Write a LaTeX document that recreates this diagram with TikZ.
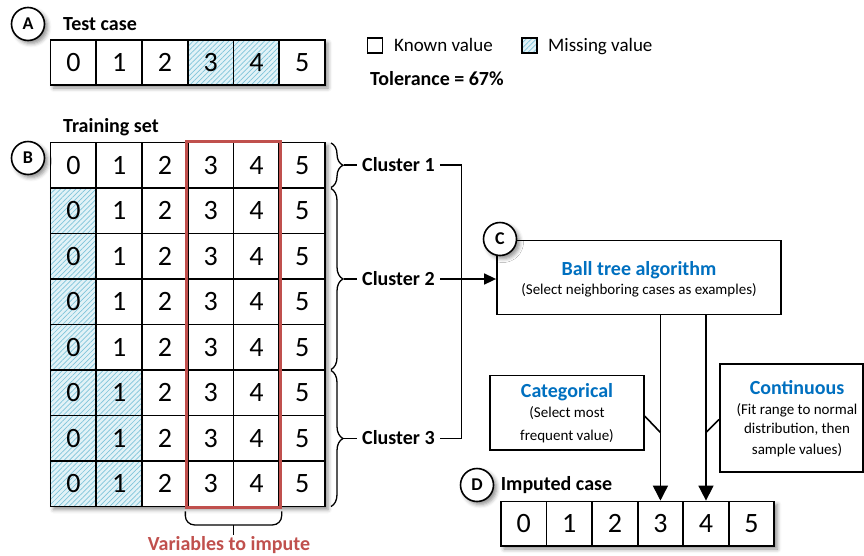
\documentclass[tikz,border=0pt]{standalone}
\usepackage{fontspec}
\setmainfont{Carlito}
\usetikzlibrary{patterns.meta,decorations.pathreplacing,arrows.meta,fit,calc,shadows.blur}

\definecolor{accent}{HTML}{0070C0}
\definecolor{varred}{HTML}{C0504D}
\definecolor{hatchbg}{HTML}{E2F2F7}
\definecolor{hatchln}{HTML}{7FC4DA}

\tikzset{
  softshadow/.style={blur shadow={shadow xshift=3pt, shadow yshift=-3pt, shadow blur radius=4pt, shadow opacity=45}},
  cell/.style={draw, line width=1.8pt, minimum width=45.75pt, minimum height=45.5pt,
    inner sep=0pt, font=\fontsize{28}{28}\selectfont},
  known/.style={fill=white},
  missing/.style={fill=hatchbg,
    postaction={pattern={Lines[angle=45,distance=3.6pt,line width=0.7pt]}, pattern color=hatchln},
    postaction={draw}},
  missing if/.code={\ifnum#1=1\relax\tikzset{missing}\else\tikzset{known}\fi},
  rowframe/.style={fill=white, inner sep=0pt, softshadow},
  badge/.style={circle, draw, line width=1.6pt, fill=white, minimum size=33pt, inner sep=0pt,
    font=\fontsize{18}{18}\selectfont\bfseries, softshadow},
  heading/.style={anchor=west, inner sep=0pt, text height=12.8pt, text depth=0pt,
    font=\fontsize{20}{20}\selectfont\bfseries},
  cluster/.style={heading, inner sep=5pt},
  legend/.style={anchor=west, inner sep=0pt, text height=12.2pt, text depth=0pt,
    font=\fontsize{19}{19}\selectfont},
  legendbox/.style={draw, line width=1.4pt, minimum size=15pt, inner sep=0pt},
  panel/.style={draw, line width=1.8pt, fill=white, inner sep=0pt},
  title/.style={inner sep=0pt, text height=12.8pt, text depth=0pt, text=accent,
    font=\fontsize{20}{20}\selectfont\bfseries},
  note/.style={inner sep=0pt, text height=9.6pt, text depth=0pt,
    font=\fontsize{15}{15}\selectfont},
  wire/.style={line width=1.6pt},
  flow/.style={wire, -{Triangle[width=15pt,length=15pt]}},
  feed/.style={wire, -{Triangle[width=11pt,length=12pt]}},
  clusterbrace/.style={line width=1.3pt, decorate, decoration={brace, amplitude=12pt}},
  bracket/.style={line width=1.3pt, rounded corners=9pt},
  frame/.style={draw=varred, line width=3pt, inner sep=0pt},
}

\begin{document}
\begin{tikzpicture}[x=1pt,y=-1pt]
\useasboundingbox (0,0) rectangle (864,555);

% ---- A: test case ----
\node[badge] (bA) at (28,24) {A};
\node[heading] (testcase) at (63,24) {Test case};
\node[rowframe, minimum width=274.5pt, minimum height=45pt] (testrow) at (187.75,62.5) {};
\foreach \i in {0,...,5}{
  \pgfmathtruncatemacro\miss{(\i==3)||(\i==4)}
  \node[cell, minimum height=45pt, missing if=\miss] (t\i) at ({50.5+45.75*(\i+0.5)},62.5) {\i};
}

% ---- legend ----
\node[legendbox, known] (kbox) at (375,45.5) {};
\node[legend] (ktext) at (394,45.8) {Known value};
\node[legendbox, missing] (mbox) at (529.5,45.5) {};
\node[legend] (mtext) at (548,45.8) {Missing value};
\node[heading] (tol) at (370,79) {Tolerance = 67\%};

% ---- B: training set ----
\node[heading] (trainlabel) at (63,126) {Training set};
\node[rowframe, minimum width=274.5pt, minimum height=364pt] (trainset) at (187.75,324.5) {};
\foreach \j/\m in {0/0,1/1,2/1,3/1,4/1,5/2,6/2,7/2}{
  \foreach \i in {0,...,5}{
    \pgfmathtruncatemacro\miss{\i<\m}
    \node[cell, missing if=\miss] (r\j-\i) at ({50.5+45.75*(\i+0.5)},{142.5+45.5*(\j+0.5)}) {\i};
  }
}
\node[badge] (bB) at (28,158) {B};

% variables to impute
\node[frame, fit=(r0-3)(r7-4)] (vars) {};
\draw[bracket] ($(vars.south west)+(0,2.5)$) -- ++(0,13.5) -| ($(vars.south east)+(0,2.5)$);
\coordinate (vtick) at ($(vars.south)+(0,16)$);
\coordinate (vtickend) at ($(vars.south)+(0,26)$);
\draw[bracket] (vtick) -- (vtickend);
\node[heading, anchor=center, text=varred] (vlabel) at (229,544.5) {Variables to impute};

% clusters
\draw[clusterbrace] (331,143) -- (331,187.5);
\draw[clusterbrace] (331,188.5) -- (331,369.5);
\draw[clusterbrace] (331,370.5) -- (331,506.5);
\coordinate (tip1) at (343.5,165);
\coordinate (tip2) at (343.5,279);
\coordinate (tip3) at (343.5,438.5);
\node[cluster] (c1) at (357,165) {Cluster 1};
\node[cluster] (c2) at (357,279) {Cluster 2};
\node[cluster] (c3) at (357,438.5) {Cluster 3};
\draw[wire] (tip1) -- (c1.west);
\draw[wire] (tip2) -- (c2.west);
\draw[wire] (tip3) -- (c3.west);

% ---- C: ball tree ----
\node[panel, minimum width=284pt, minimum height=74pt] (ball) at (639,277.5) {};
\node[title] (balltitle) at (639,269) {Ball tree algorithm};
\node[note] (ballnote) at (639,290) {(Select neighboring cases as examples)};
\node[badge] (bC) at (500,239) {C};

\coordinate (bus) at (461.5,165);
\draw[wire] (c1.east) -- (bus) -- (bus |- c3.east) -- (c3.east);
\draw[feed] (c2.east) -- (ball.west |- c2.east);

% ---- imputation rules ----
\node[panel, minimum width=154pt, minimum height=74.5pt] (cat) at (567,412.75) {};
\node[title] (cattitle) at (567,391.5) {Categorical};
\node[note] (catnote1) at (567,413) {(Select most};
\node[note] (catnote2) at (567,436) {frequent value)};

\node[panel, minimum width=143pt, minimum height=108pt] (cont) at (791.5,418) {};
\node[title] (conttitle) at (797,388.3) {Continuous};
\node[note] (contnote1) at (797,410) {(Fit range to normal};
\node[note] (contnote2) at (797,429) {distribution, then};
\node[note] (contnote3) at (797,450) {sample values)};

% ---- D: imputed case ----
\node[rowframe, minimum width=273.3pt, minimum height=44.5pt] (improw) at (637.65,523.75) {};
\foreach \i in {0,...,5}
  \node[cell, known, minimum width=45.55pt, minimum height=44.5pt] (d\i) at ({501+45.55*(\i+0.5)},523.75) {\i};
\node[badge] (bD) at (477,485) {D};
\node[heading] (impcase) at (500.7,484.5) {Imputed case};

\coordinate (jrow) at (0,432.5);
\draw[flow] (ball.south -| d3) -- (d3.north);
\draw[flow] (ball.south -| d4) -- (d4.north);
\draw[wire] ($(cat.east)+(0,3.5)$) -- (d3 |- jrow);
\draw[wire] ($(cont.west)+(0,1.5)$) -- (d4 |- jrow);
\end{tikzpicture}
\end{document}
